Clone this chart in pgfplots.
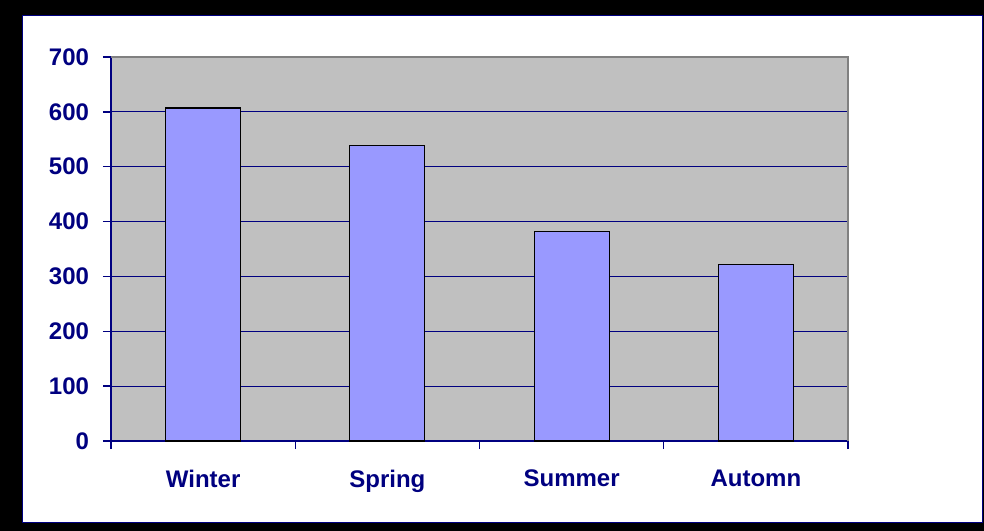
\documentclass[border=0pt]{standalone}
\usepackage{fontspec}
\setmainfont{Liberation Sans}
\usepackage{pgfplots}
\pgfplotsset{compat=1.18}
\definecolor{xlnavy}{HTML}{000080}
\definecolor{xlbar}{HTML}{9999FF}
\definecolor{xlplot}{HTML}{C0C0C0}
\definecolor{xledge}{HTML}{808080}
\begin{document}
\begin{tikzpicture}
% frame, in pixels of the reference (axis corner at the origin)
\begin{scope}[x=0.75pt,y=0.75pt]
\fill[black] (-111,-90) rectangle (873,441);
\filldraw[fill=white,draw=xlnavy,line width=0.75pt] (-88,-82) rectangle (871,425);
\end{scope}
\begin{axis}[
  at={(0,0)}, anchor=south west,
  scale only axis, width=552.75pt, height=288pt,
  clip=false,
  xmin=-0.5, xmax=3.5, ymin=0, ymax=700,
  ytick={0,100,...,700},
  xtick={-0.5,0.5,1.5,2.5,3.5}, xticklabels={},
  extra x ticks={0,1,2,3}, extra x tick labels={Winter,Spring,Summer,Automn},
  extra x tick style={major tick length=0pt},
  axis lines*=left, tick pos=left, tick align=outside,
  major tick length=6pt,
  every tick/.append style={xlnavy, line width=0.9pt},
  axis line style={xlnavy, line width=0.9pt},
  ymajorgrids, major grid style={xlnavy, line width=0.9pt},
  axis background/.style={fill=xlplot},
  ticklabel style={font=\bfseries\fontsize{18}{20}\selectfont, text=xlnavy},
  yticklabel style={xshift=-7pt},
  xticklabel style={yshift=-18pt},
  /pgf/number format/assume math mode=true,
]
\addplot[ybar, bar width=0.407, fill=xlbar, draw=black, line width=0.9pt]
  coordinates {(0,607) (1,538) (2,382) (3,322)};
\draw[xledge, line width=0.9pt] (rel axis cs:0,1) -- (rel axis cs:1,1) -- (rel axis cs:1,0);
% y tick marks drawn in axis units (8 px = 0.0434 x units)
\draw[xlnavy, line width=1.1pt]
  (axis cs:-0.5,0) -- (axis cs:-0.5434,0)
  (axis cs:-0.5,100) -- (axis cs:-0.5434,100)
  (axis cs:-0.5,200) -- (axis cs:-0.5434,200)
  (axis cs:-0.5,300) -- (axis cs:-0.5434,300)
  (axis cs:-0.5,400) -- (axis cs:-0.5434,400)
  (axis cs:-0.5,500) -- (axis cs:-0.5434,500)
  (axis cs:-0.5,600) -- (axis cs:-0.5434,600)
  (axis cs:-0.5,700) -- (axis cs:-0.5434,700);
\end{axis}
\end{tikzpicture}
\end{document}
